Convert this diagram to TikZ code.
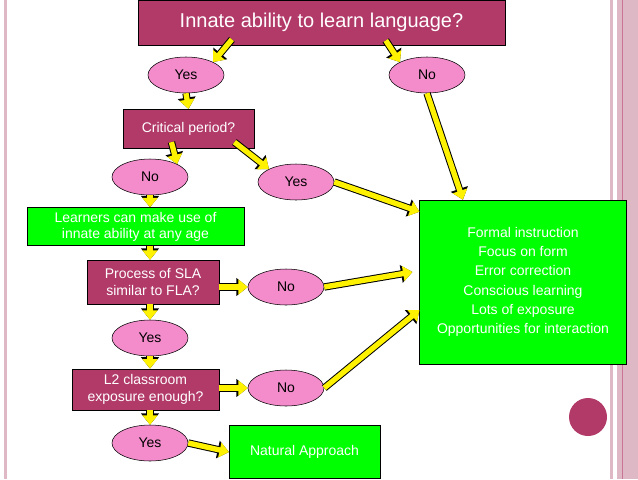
\documentclass[tikz,border=0pt]{standalone}
\usepackage{fontspec}
\setmainfont{Liberation Sans}
\usepackage{tikz}
\usetikzlibrary{arrows.meta}
\usetikzlibrary{shapes.geometric}
\usetikzlibrary{calc}
\definecolor{plum}{RGB}{178,58,104}
\definecolor{rose}{RGB}{244,140,204}
\definecolor{lime}{RGB}{0,255,0}
\definecolor{edge}{RGB}{222,184,196}
\tikzset{
    question/.style={draw=black, fill=plum, text=white, align=center, font=\fontsize{10.5}{12.5}\selectfont},
    answer/.style={ellipse, draw=black, fill=rose, minimum width=57pt, minimum height=27pt, font=\fontsize{10.5}{12.5}\selectfont},
    outcome/.style={draw=black, fill=lime, text=white, align=center, font=\fontsize{10.5}{14.5}\selectfont},
    flow/.style={line width=4pt, draw=yellow, -{Triangle[length=7pt,width=11pt]},
        preaction={draw=black, line width=5.5pt, -{Triangle[length=8.5pt,width=13pt]}}},
}
\begin{document}
\begin{tikzpicture}[x=0.75pt, y=-0.75pt]
    \useasboundingbox (0,0) rectangle (638,479);
    \fill[white] (0,0) rectangle (638,479);
    % slide border
    \fill[edge] (4,0) rectangle (7,479);
    \fill[edge] (610,0) rectangle (613,479);
    \fill[edge] (617,0) rectangle (638,479);
    \draw[plum!70, line width=0.6pt] (622,0) -- (622,479);
    \fill[plum] (588,417) circle (19);

    \node[question, minimum width=275pt, minimum height=34pt, font=\fontsize{15}{18}\selectfont] (innate) at (321.5,22.5) {Innate ability to learn language?};
    \node[answer] (yesA) at (186,75) {Yes};
    \node[answer] (noA) at (427,75) {No};
    \node[question, minimum width=98pt, minimum height=29pt] (critical) at (188.5,128.5) {Critical period?};
    \node[answer] (noB) at (150,177) {No};
    \node[answer] (yesB) at (296,182) {Yes};
    \node[outcome, minimum width=163pt, minimum height=26pt, font=\fontsize{10.5}{12}\selectfont] (anyage) at (135.5,226.5) {Learners can make use of\\innate ability at any age};
    \node[question, minimum width=99pt, minimum height=33pt] (process) at (153,282) {Process of SLA\\similar to FLA?};
    \node[answer] (noC) at (286,287) {No};
    \node[answer] (yesC) at (150,338) {Yes};
    \node[question, minimum width=110pt, minimum height=31pt] (exposure) at (145.5,389.5) {L2 classroom\\exposure enough?};
    \node[answer] (noD) at (286,388) {No};
    \node[answer] (yesD) at (150,443) {Yes};
    \node[outcome, minimum width=113pt, minimum height=40pt] (natural) at (304.5,452) {Natural Approach};
    \node[outcome, minimum width=155pt, minimum height=123pt] (formal) at (523,282) {Formal instruction\\Focus on form\\Error correction\\Conscious learning\\Lots of exposure\\Opportunities for interaction};

    \draw[flow] ($(innate.south west)!0.256!(innate.south east)+(0,-6)$) -- (yesA.north east);
    \draw[flow] ($(innate.south west)!0.675!(innate.south east)+(0,-5)$) -- (noA.north west);
    \draw[flow] (yesA.south) -- (critical.north);
    \draw[flow] ($(critical.south west)!0.37!(critical.south east)+(0,-6)$) -- (noB.north east);
    \draw[flow] ($(critical.south west)!0.85!(critical.south east)+(0,-6)$) -- (yesB.north west);
    \draw[flow] (noB.south) -- (anyage.north -| noB.south);
    \draw[flow] (anyage.south -| noB.south) -- (process.north -| noB.south);
    \draw[flow] (process.east |- noC) -- (noC.west);
    \draw[flow] (process.south -| yesC.north) -- (yesC.north);
    \draw[flow] (yesC.south) -- (exposure.north -| yesC.south);
    \draw[flow] (exposure.east |- noD) -- (noD.west);
    \draw[flow] (exposure.south -| yesD.north) -- (yesD.north);
    \draw[flow] (yesD.east) -- (natural.west);
    \draw[flow] (noA.south) -- ($(formal.north west)!0.21!(formal.north east)$);
    \draw[flow] (yesB.east) -- ($(formal.north west)+(0,12)$);
    \draw[flow] (noC.east) -- ($(formal.west)+(-7,-10)$);
    \draw[flow] (noD.east) -- ($(formal.west)+(0,28)$);
\end{tikzpicture}
\end{document}
